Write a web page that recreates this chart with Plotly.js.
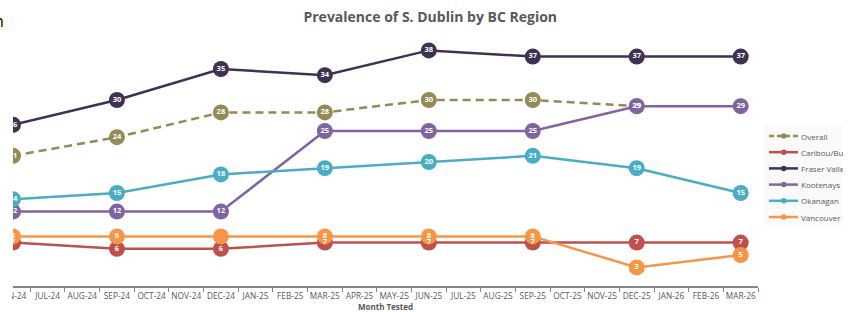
<!DOCTYPE html>
<html>
<head>
<meta charset="utf-8">
<script src="https://cdn.plot.ly/plotly-3.0.1.min.js"></script>
<style>html,body{margin:0;padding:0;background:#fff;overflow:hidden}#wrap{position:relative;width:852px;height:312px}#chart{width:852px;height:312px}.mask{position:absolute;background:#fff}#clipR{left:843px;top:124px;width:9px;height:104px}#clipL{left:0;top:32px;width:12px;height:280px}</style>
</head>
<body>
<div id="wrap"><div id="chart"></div><div id="clipR" class="mask"></div><div id="clipL" class="mask"></div></div>
<script>
const months = ['JUN-24','JUL-24','AUG-24','SEP-24','OCT-24','NOV-24','DEC-24','JAN-25','FEB-25','MAR-25','APR-25','MAY-25','JUN-25','JUL-25','AUG-25','SEP-25','OCT-25','NOV-25','DEC-25','JAN-26','FEB-26','MAR-26'];
const quarters = ['JUN-24','SEP-24','DEC-24','MAR-25','JUN-25','SEP-25','DEC-25','MAR-26'];
const overall   = [21,24,28,28,30,30,29,null];
const caribou   = [7,6,6,7,7,7,7,7];
const fraser    = [26,30,35,34,38,37,37,37];
const kootenays = [12,12,12,25,25,25,29,29];
const okanagan  = [14,15,18,19,20,21,19,15];
const vancouver = [8,8,8,8,8,8,3,5];
const vancouverLabelShown = [true,true,false,true,true,true,true,true];

const seriesNames = ['Overall','Caribou/Bulkley','Fraser Valley','Kootenays','Okanagan','Vancouver Island'];
const seriesValues = [overall,caribou,fraser,kootenays,okanagan,vancouver];
const seriesColors = ['#948A54','#C0504D','#3F3151','#8064A2','#4BACC6','#F79646'];
const seriesDash = ['8px,5px','solid','solid','solid','solid','solid'];

const FONT = 'Open Sans, sans-serif';
const traces = [];
seriesValues.forEach((vals,i)=>{
  traces.push({
    type:'scatter', mode:'lines+markers', x:quarters, y:vals, showlegend:false,
    line:{color:seriesColors[i], width:2.5, dash:seriesDash[i]},
    marker:{color:seriesColors[i], size:16}, hoverinfo:'skip', connectgaps:false
  });
});
seriesValues.forEach((vals,i)=>{
  const txt = vals.map((v,j)=> (v==null || (i===5 && !vancouverLabelShown[j])) ? '' : String(v));
  traces.push({
    type:'scatter', mode:'text', x:quarters, y:vals, text:txt, showlegend:false,
    textposition:'middle center', hoverinfo:'skip',
    textfont:{family:FONT, size:7.5, color:'#ffffff', weight:'bold'}
  });
});

// manual legend (plot area: x 13..758 px, y 38..286 px)
const PL=13, PW=745, PB=286, PH=248;
const px = p => (p-PL)/PW;
const py = p => (PB-p)/PH;
const shapes = [{type:'rect', xref:'paper', yref:'paper', x0:px(764), x1:px(843), y0:py(225), y1:py(125), fillcolor:'#fafafa', line:{width:0}, layer:'below'}];
const annotations = [{text:'n', xref:'paper', yref:'paper', x:px(6), xanchor:'right', y:py(21), yanchor:'middle', showarrow:false, font:{family:FONT, size:16, color:'#000000'}}];
const legY0 = 136, legStep = 16.2;
seriesNames.forEach((n,i)=>{
  const y = legY0 + i*legStep;
  shapes.push({type:'line', xref:'paper', yref:'paper', x0:px(769), x1:px(798), y0:py(y), y1:py(y), line:{color:seriesColors[i], width:2.5, dash:i===0?'5px,3px':'solid'}});
  shapes.push({type:'circle', xref:'paper', yref:'paper', x0:px(781), x1:px(786.5), y0:py(y+2.75), y1:py(y-2.75), fillcolor:seriesColors[i], line:{width:0}});
  annotations.push({text:n, xref:'paper', yref:'paper', x:px(799), xanchor:'left', y:py(y), yanchor:'middle', showarrow:false, font:{family:FONT, size:8, color:'#595959'}});
});

const layout = {
  width:852, height:312,
  margin:{l:13, r:94, t:38, b:26, autoexpand:false},
  paper_bgcolor:'#ffffff', plot_bgcolor:'#ffffff',
  title:{text:'<b>Prevalence of S. Dublin by BC Region</b>', font:{family:FONT, size:14, color:'#595959'}, xref:'container', x:0.505, xanchor:'center', yref:'container', y:0.945, yanchor:'middle'},
  xaxis:{
    type:'category', categoryorder:'array', categoryarray:months, range:[0,21.5],
    showgrid:false, zeroline:false, showline:true, linecolor:'#868686', linewidth:1.5,
    ticks:'outside', tickson:'boundaries', ticklen:4, tickcolor:'#868686', tickwidth:1,
    ticklabelstandoff:2,
    tickfont:{family:FONT, size:8.3, color:'#595959'}, tickangle:0,
    title:{text:'<b>Month Tested</b>', font:{family:FONT, size:8, color:'#595959'}, standoff:8},
    fixedrange:true
  },
  yaxis:{range:[0,40], visible:false, showgrid:false, zeroline:false, fixedrange:true},
  shapes:shapes, annotations:annotations,
  showlegend:false
};
Plotly.newPlot('chart', traces, layout, {displayModeBar:false, staticPlot:true});
</script>
</body>
</html>
